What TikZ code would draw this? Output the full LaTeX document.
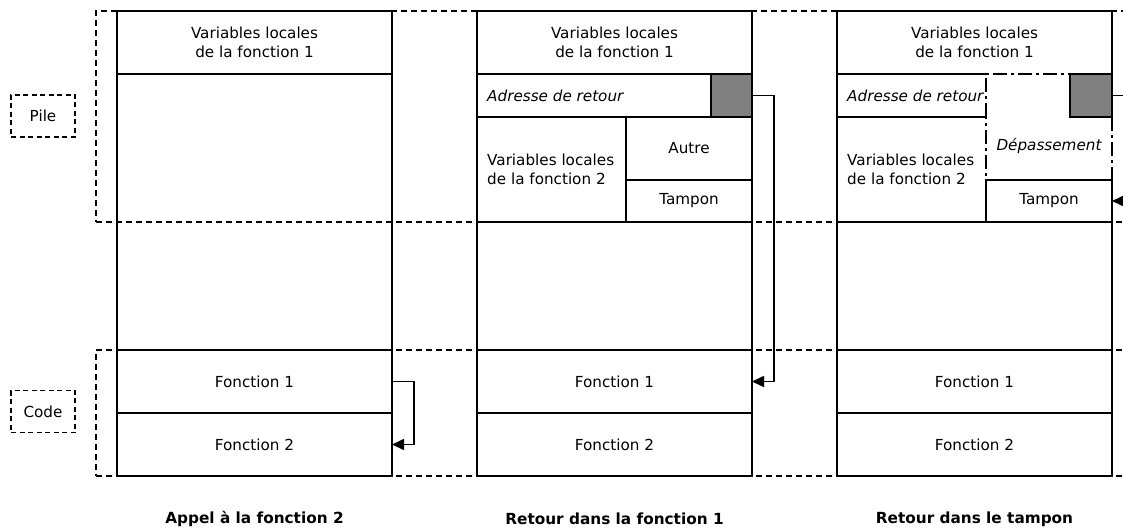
\documentclass[tikz,border=0pt]{standalone}
\usepackage{fontspec}
\setmainfont{DejaVu Sans}
\usetikzlibrary{arrows.meta}
\definecolor{slot}{RGB}{128,128,128}
\newcommand\cellfont{\fontsize{15.2pt}{18.5pt}\selectfont}
\newcommand\capfont{\fontsize{15.3pt}{18pt}\selectfont\bfseries}
\begin{document}
\begin{tikzpicture}[x=1pt,y=-1pt,
  wall/.style={line width=1.6pt},
  cell/.style 2 args={draw, line width=1.6pt, inner sep=0pt, outer sep=0pt,
    anchor=north west, minimum width=#1, minimum height=#2,
    font=\cellfont, align=center},
  txt/.style={inner sep=0pt, font=\cellfont, align=left},
  zone/.style={draw, line width=1.6pt, dash pattern=on 6pt off 4pt,
    inner sep=0pt, outer sep=0pt, anchor=north west},
  tag/.style={draw, line width=1.6pt, dash pattern=on 5pt off 3.5pt,
    inner sep=0pt, minimum width=64pt, minimum height=42pt, font=\cellfont},
  overflow/.style={line width=1.6pt, dash pattern=on 14pt off 4pt on 3pt off 4pt},
  link/.style={line width=1.6pt, -{Triangle[length=12pt,width=11pt]}},
  caption/.style={font=\capfont, inner sep=0pt}
]
\useasboundingbox (0,0) rectangle (1123,529);
\clip (0,0) rectangle (1123,529);

% memory zones
\node[zone, minimum width=1050pt, minimum height=211pt] (pile) at (96,11) {};
\node[zone, minimum width=1050pt, minimum height=126pt] (code) at (96,350) {};
\node[tag] (pile-tag) at (43,116) {Pile};
\node[tag] (code-tag) at (43,411.5) {Code};

% --- call of function 2
\node[cell={275pt}{465pt}] (a-col) at (117,11) {};
\node[cell={275pt}{63pt}] (a-top) at (117,11) {Variables locales\\de la fonction 1};
\node[cell={275pt}{63pt}] (a-f1) at (117,350) {Fonction 1};
\node[cell={275pt}{63pt}] (a-f2) at (117,413) {Fonction 2};
\draw[link] (a-f1.east) -- ++(22,0) |- (a-f2.east);

% --- return into function 1
\node[cell={275pt}{465pt}] (b-col) at (477,11) {};
\node[cell={275pt}{63pt}] (b-top) at (477,11) {Variables locales\\de la fonction 1};
\node[cell={234pt}{43pt}] (b-addr) at (477,74) {};
\node[cell={41pt}{43pt}, fill=slot] (b-ret) at (711,74) {};
\node[cell={149pt}{105pt}] (b-var2) at (477,117) {};
\node[cell={126pt}{63pt}] (b-autre) at (626,117) {Autre};
\node[cell={126pt}{42pt}] (b-tamp) at (626,180) {Tampon};
\node[txt, anchor=west] (b-addr-t) at (487,95.5) {\itshape Adresse de retour};
\node[txt, anchor=west] (b-var2-t) at (487,169.5) {Variables locales\\de la fonction 2};
\node[cell={275pt}{63pt}] (b-f1) at (477,350) {Fonction 1};
\node[cell={275pt}{63pt}] (b-f2) at (477,413) {Fonction 2};
\draw[link] (b-ret.east) -- ++(22,0) |- (b-f1.east);

% --- return into the buffer
\draw[wall] (837,74) -- (837,11) -- (1112,11) -- (1112,74);
\draw[wall] (837,74) -- (837,476) -- (1112,476) -- (1112,180);
\draw[wall] (837,74) -- (986,74);
\draw[wall] (837,117) -- (986,117);
\draw[wall] (837,222) -- (986,222);
\draw[overflow] (986,117) -- (986,74) -- (1070,74);
\draw[overflow] (1112,117) -- (1112,180) -- (986,180) -- (986,117);
\node[txt, align=center] (c-top) at (974.5,42.5) {Variables locales\\de la fonction 1};
\node[cell={42pt}{43pt}, fill=slot] (c-ret) at (1070,74) {};
\node[cell={126pt}{42pt}] (c-tamp) at (986,180) {Tampon};
\node[txt, anchor=west] (c-addr-t) at (847,95.5) {\itshape Adresse de retour};
\node[txt, anchor=west] (c-var2-t) at (847,169.5) {Variables locales\\de la fonction 2};
\node[txt] (c-over) at (1049,146) {\itshape Dépassement};
\node[cell={275pt}{63pt}] (c-f1) at (837,350) {Fonction 1};
\node[cell={275pt}{63pt}] (c-f2) at (837,413) {Fonction 2};
\draw[link] (c-ret.east) -- ++(30,0) |- (c-tamp.east);

% captions
\node[caption] (cap-a) at (254.5,519) {Appel à la fonction 2};
\node[caption] (cap-b) at (614.5,519) {Retour dans la fonction 1};
\node[caption] (cap-c) at (974.5,519) {Retour dans le tampon};
\end{tikzpicture}
\end{document}
